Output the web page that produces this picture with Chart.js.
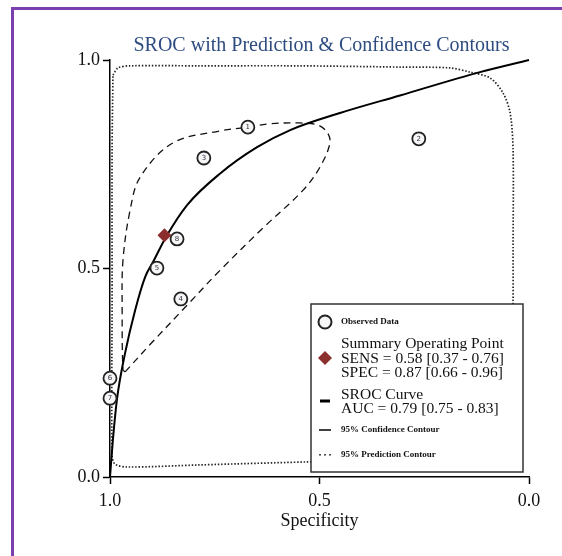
<!DOCTYPE html>
<html>
<head>
<meta charset="utf-8">
<script src="https://cdn.jsdelivr.net/npm/chart.js@4.4.0/dist/chart.umd.min.js"></script>
<style>
html, body { margin: 0; padding: 0; background: #fff; overflow: hidden; }
#frame { position: absolute; left: 11px; top: 7px; width: 620px; height: 620px; border: 3px solid #7B3FAF; box-sizing: border-box; }
#chart { position: absolute; left: 0; top: 0; }
</style>
</head>
<body>
<div id="frame"></div>
<canvas id="chart" width="562" height="556"></canvas>
<script>
const titleText = 'SROC with Prediction & Confidence Contours';
const xTitle = 'Specificity';
const tickValues = [0, 0.5, 1];

// observed studies
const studyLabels = ['1', '2', '3', '4', '5', '6', '7', '8'];
const studySpec = [0.671, 0.263, 0.776, 0.831, 0.888, 1.0, 1.0, 0.840];
const studySens = [0.839, 0.811, 0.765, 0.427, 0.501, 0.237, 0.189, 0.571];

// summary operating point
const summarySpec = [0.87];
const summarySens = [0.58];

// SROC curve
const srocSpec = [1.0, 0.993, 0.983, 0.964, 0.940, 0.916, 0.897, 0.866, 0.816, 0.737, 0.649, 0.570, 0.451, 0.308, 0.117, 0.0];
const srocSens = [0.0, 0.090, 0.189, 0.297, 0.400, 0.480, 0.516, 0.576, 0.652, 0.728, 0.791, 0.832, 0.873, 0.915, 0.971, 1.0];

// 95% confidence contour
const confSpec = [0.964, 0.905, 0.816, 0.737, 0.635, 0.539, 0.499, 0.475, 0.482, 0.504, 0.547, 0.618, 0.671, 0.737, 0.850, 0.928, 0.952, 0.969, 0.971, 0.969, 0.964];
const confSens = [0.252, 0.317, 0.412, 0.496, 0.597, 0.688, 0.743, 0.801, 0.827, 0.844, 0.849, 0.847, 0.839, 0.830, 0.801, 0.719, 0.640, 0.520, 0.400, 0.257, 0.252];

// 95% prediction contour
const predSpec = [0.993, 0.981, 0.952, 0.785, 0.547, 0.308, 0.189, 0.141, 0.093, 0.062, 0.045, 0.038, 0.038, 0.038, 0.041, 0.057, 0.117, 0.308, 0.535, 0.785, 0.959, 0.988, 0.995, 0.995, 0.995, 0.993];
const predSens = [0.964, 0.981, 0.986, 0.986, 0.986, 0.983, 0.981, 0.971, 0.957, 0.921, 0.873, 0.784, 0.544, 0.424, 0.185, 0.065, 0.046, 0.041, 0.036, 0.029, 0.024, 0.031, 0.053, 0.424, 0.784, 0.964];

const toPoints = (xs, ys) => xs.map((v, i) => ({x: v, y: ys[i]}));

const serif = '"Liberation Serif", "DejaVu Serif", serif';
Chart.defaults.font.family = serif;
Chart.defaults.color = '#111';

// title drawn centred over the plot area
const plotTitle = {
    id: 'plotTitle',
    afterDraw(chart) {
        const {ctx, chartArea} = chart;
        ctx.save();
        ctx.font = '20px ' + serif;
        ctx.fillStyle = '#2E4C80';
        ctx.textAlign = 'center';
        ctx.textBaseline = 'middle';
        ctx.fillText(titleText, (chartArea.left + chartArea.right) / 2 + 2, 46);
        ctx.restore();
    }
};

// numbers inside study circles
const studyNumbers = {
    id: 'studyNumbers',
    afterDatasetsDraw(chart) {
        const ctx = chart.ctx;
        const meta = chart.getDatasetMeta(3);
        ctx.save();
        ctx.font = '7px "DejaVu Sans"';
        ctx.fillStyle = '#334';
        ctx.textAlign = 'center';
        ctx.textBaseline = 'middle';
        meta.data.forEach((pt, i) => ctx.fillText(studyLabels[i], pt.x, pt.y + 0.5));
        ctx.restore();
    }
};

// boxed legend in lower right
const srocLegend = {
    id: 'srocLegend',
    afterDraw(chart) {
        const ctx = chart.ctx;
        const a = chart.chartArea;
        const left = a.right - 218, top = a.bottom - 173, w = 212, h = 168;
        const sx = left + 14, tx = left + 30;
        ctx.save();
        ctx.fillStyle = '#fff';
        ctx.fillRect(left, top, w, h);
        ctx.strokeStyle = '#333';
        ctx.lineWidth = 1.5;
        ctx.strokeRect(left, top, w, h);

        // observed data
        ctx.beginPath();
        ctx.arc(sx, top + 18, 6.5, 0, Math.PI * 2);
        ctx.fillStyle = '#f6f6f6';
        ctx.fill();
        ctx.lineWidth = 2;
        ctx.strokeStyle = '#222';
        ctx.stroke();

        // summary point diamond
        ctx.beginPath();
        ctx.moveTo(sx, top + 47);
        ctx.lineTo(sx + 7, top + 54);
        ctx.lineTo(sx, top + 61);
        ctx.lineTo(sx - 7, top + 54);
        ctx.closePath();
        ctx.fillStyle = '#8B2E2E';
        ctx.fill();

        // sroc line
        ctx.strokeStyle = '#000';
        ctx.lineWidth = 3;
        ctx.beginPath();
        ctx.moveTo(sx - 5, top + 97);
        ctx.lineTo(sx + 5, top + 97);
        ctx.stroke();

        // confidence
        ctx.lineWidth = 1.5;
        ctx.beginPath();
        ctx.moveTo(sx - 6, top + 126);
        ctx.lineTo(sx + 6, top + 126);
        ctx.stroke();

        // prediction dots
        ctx.fillStyle = '#222';
        [-5, 0, 5].forEach(d => ctx.fillRect(sx + d - 0.8, top + 150, 1.6, 1.6));

        ctx.fillStyle = '#111';
        ctx.textAlign = 'left';
        ctx.textBaseline = 'middle';
        ctx.font = 'bold 9px ' + serif;
        ctx.fillText('Observed Data', tx, top + 18);
        ctx.fillText('95% Confidence Contour', tx, top + 126);
        ctx.fillText('95% Prediction Contour', tx, top + 151);
        ctx.font = '15.5px ' + serif;
        ctx.fillText('Summary Operating Point', tx, top + 40);
        ctx.fillText('SENS = 0.58 [0.37 - 0.76]', tx, top + 55);
        ctx.fillText('SPEC = 0.87 [0.66 - 0.96]', tx, top + 69);
        ctx.fillText('SROC Curve', tx, top + 91);
        ctx.fillText('AUC = 0.79 [0.75 - 0.83]', tx, top + 105);
        ctx.restore();
    }
};

const ctx = document.getElementById('chart');
const chart = new Chart(ctx, {
    type: 'scatter',
    data: {
        datasets: [{
            label: '95% Prediction Contour',
            data: toPoints(predSpec, predSens),
            showLine: true,
            borderColor: '#222',
            borderWidth: 1.7,
            borderDash: [1.5, 1.8],
            tension: 0.3,
            pointRadius: 0,
            order: 4
        }, {
            label: '95% Confidence Contour',
            data: toPoints(confSpec, confSens),
            showLine: true,
            borderColor: '#111',
            borderWidth: 1.3,
            borderDash: [7, 5],
            tension: 0.35,
            pointRadius: 0,
            order: 3
        }, {
            label: 'SROC Curve',
            data: toPoints(srocSpec, srocSens),
            showLine: true,
            borderColor: '#000',
            borderWidth: 2,
            cubicInterpolationMode: 'monotone',
            pointRadius: 0,
            order: 2
        }, {
            label: 'Observed Data',
            data: toPoints(studySpec, studySens),
            pointRadius: 6.5,
            pointBackgroundColor: '#f6f6f6',
            pointBorderColor: '#222',
            pointBorderWidth: 1.8,
            order: 1
        }, {
            label: 'Summary Operating Point',
            data: toPoints(summarySpec, summarySens),
            pointStyle: 'rectRot',
            pointRadius: 7,
            pointBackgroundColor: '#8B2E2E',
            pointBorderColor: '#8B2E2E',
            pointBorderWidth: 0,
            order: 0
        }]
    },
    options: {
        responsive: false,
        animation: false,
        devicePixelRatio: 1,
        clip: false,
        layout: {padding: {left: 0, right: 33, top: 60, bottom: 0}},
        plugins: {
            legend: {display: false},
            tooltip: {enabled: false},
            title: {display: false}
        },
        scales: {
            x: {
                type: 'linear',
                reverse: true,
                min: 0,
                max: 1,
                afterBuildTicks: scale => { scale.ticks = tickValues.map(v => ({value: v})); },
                afterFit: scale => { scale.height = 79; },
                ticks: {
                    callback: v => v.toFixed(1),
                    font: {size: 18},
                    color: '#111',
                    padding: 6,
                    maxRotation: 0
                },
                grid: {display: true, drawOnChartArea: false, drawTicks: true, tickLength: 7, tickWidth: 1.5, tickColor: '#000'},
                border: {display: true, color: '#000', width: 1.5},
                title: {display: true, text: xTitle, font: {size: 18}, color: '#111', padding: {top: 0, bottom: 24}}
            },
            y: {
                type: 'linear',
                min: 0,
                max: 1,
                afterBuildTicks: scale => { scale.ticks = tickValues.map(v => ({value: v})); },
                afterFit: scale => { scale.width = 110; },
                ticks: {
                    callback: v => v.toFixed(1),
                    font: {size: 18},
                    color: '#111',
                    padding: 3
                },
                grid: {display: true, drawOnChartArea: false, drawTicks: true, tickLength: 7, tickWidth: 1.5, tickColor: '#000'},
                border: {display: true, color: '#000', width: 1.5}
            }
        }
    },
    plugins: [plotTitle, studyNumbers, srocLegend]
});
</script>
</body>
</html>
